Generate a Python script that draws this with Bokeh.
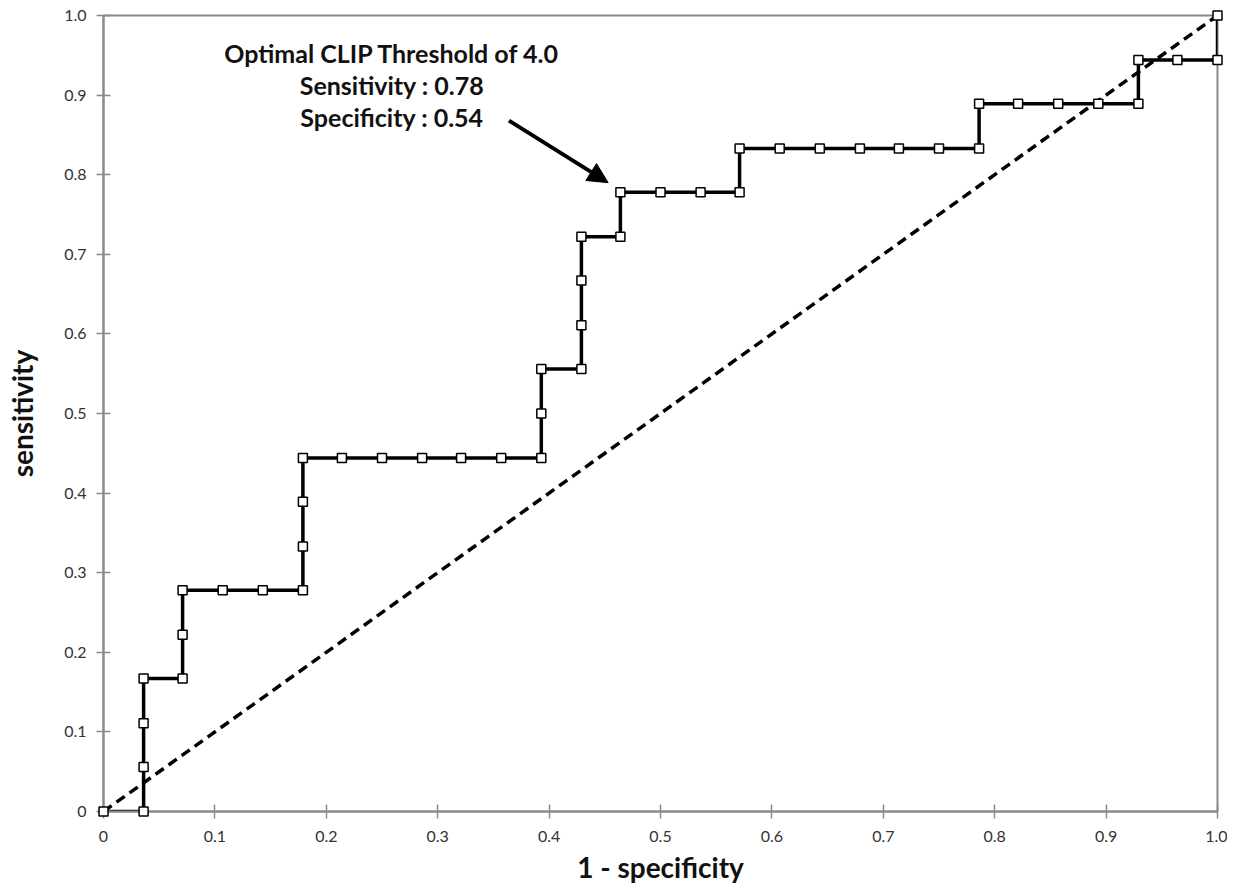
from bokeh.plotting import figure
from bokeh.models import Arrow, NormalHead, Label, FixedTicker, Range1d
from bokeh.embed import file_html
from bokeh.resources import INLINE

# ROC curve points (1 - specificity, sensitivity)
fpr = [0.0, 0.036, 0.036, 0.036, 0.036, 0.071, 0.071, 0.071, 0.107, 0.143,
       0.179, 0.179, 0.179, 0.179, 0.214, 0.250, 0.286, 0.321, 0.357, 0.393,
       0.393, 0.393, 0.429, 0.429, 0.429, 0.429, 0.464, 0.464, 0.500, 0.536,
       0.571, 0.571, 0.607, 0.643, 0.679, 0.714, 0.750, 0.786, 0.786, 0.821,
       0.857, 0.893, 0.929, 0.929, 0.964, 1.000, 1.000]
tpr = [0.0, 0.0, 0.056, 0.111, 0.167, 0.167, 0.222, 0.278, 0.278, 0.278,
       0.278, 0.333, 0.389, 0.444, 0.444, 0.444, 0.444, 0.444, 0.444, 0.444,
       0.500, 0.556, 0.556, 0.611, 0.667, 0.722, 0.722, 0.778, 0.778, 0.778,
       0.778, 0.833, 0.833, 0.833, 0.833, 0.833, 0.833, 0.833, 0.889, 0.889,
       0.889, 0.889, 0.889, 0.944, 0.944, 0.944, 1.000]

# chance line
diag_x = [0.0, 1.0]
diag_y = [0.0, 1.0]

tick_values = [0.0, 0.1, 0.2, 0.3, 0.4, 0.5, 0.6, 0.7, 0.8, 0.9, 1.0]
tick_labels = ["0", "0.1", "0.2", "0.3", "0.4", "0.5", "0.6", "0.7", "0.8", "0.9", "1.0"]

annotation_lines = ["Optimal CLIP Threshold of 4.0", "Sensitivity : 0.78", "Specificity : 0.54"]
annotation_y = [0.953, 0.913, 0.872]
optimal_point = (0.464, 0.778)

FONT = "Lato"
AXIS_COLOR = "#8a8a8a"

p = figure(frame_width=1114, frame_height=796,
           x_range=Range1d(0, 1), y_range=Range1d(0, 1),
           output_backend="svg", toolbar_location=None,
           min_border_left=103, min_border_top=15, min_border_right=10, min_border_bottom=70)
p.xgrid.visible = False
p.ygrid.visible = False
p.outline_line_color = AXIS_COLOR
p.outline_line_width = 2
p.background_fill_color = "white"
p.border_fill_color = "white"

overrides = {v: l for v, l in zip(tick_values, tick_labels)}
for ax in (p.xaxis[0], p.yaxis[0]):
    ax.ticker = FixedTicker(ticks=tick_values)
    ax.major_label_overrides = overrides
    ax.axis_line_color = AXIS_COLOR
    ax.axis_line_width = 2
    ax.major_tick_line_color = AXIS_COLOR
    ax.major_tick_line_width = 1.5
    ax.major_tick_in = 7
    ax.major_tick_out = 7
    ax.minor_tick_line_color = None
    ax.major_label_text_font = FONT
    ax.major_label_text_font_size = "16px"
    ax.major_label_text_color = "#333333"
    ax.axis_label_text_font = FONT
    ax.axis_label_text_font_style = "bold"
    ax.axis_label_text_font_size = "28px"
    ax.axis_label_text_color = "#111111"

p.xaxis.axis_label = "1 - specificity"
p.yaxis.axis_label = "sensitivity"
p.xaxis.major_label_standoff = 12
p.xaxis.axis_label_standoff = 5
p.yaxis.major_label_standoff = 10
p.yaxis.axis_label_standoff = 22

p.line(diag_x, diag_y, line_color="black", line_width=3.5, line_dash="10 6")
p.line(fpr, tpr, line_color="black", line_width=3.5)
r = p.scatter(fpr, tpr, marker="square", size=9, fill_color="white",
              line_color="black", line_width=1.5)
r.level = "overlay"

for txt, yy in zip(annotation_lines, annotation_y):
    p.add_layout(Label(x=0.259, y=yy, text=txt, text_align="center",
                       text_baseline="alphabetic", text_font=FONT,
                       text_font_style="bold", text_font_size="25px",
                       text_color="#111111"))

p.add_layout(Arrow(end=NormalHead(size=20, fill_color="black", line_color="black"),
                   x_start=0.364, y_start=0.868,
                   x_end=optimal_point[0] - 0.011, y_end=optimal_point[1] + 0.012,
                   line_width=4, line_color="black"))

open("out.html", "w").write(file_html(p, INLINE))
